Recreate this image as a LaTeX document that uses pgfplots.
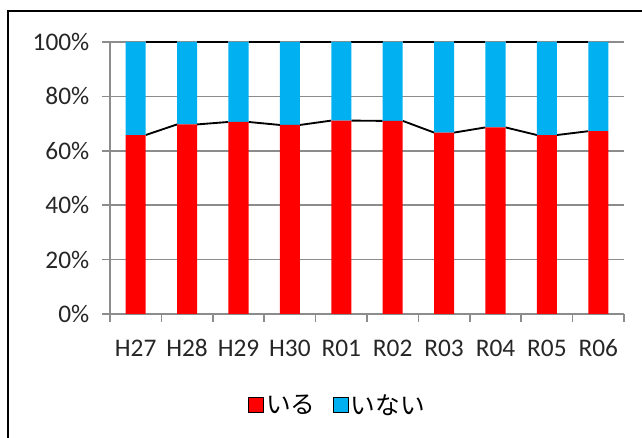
\documentclass[border=0pt]{standalone}
\usepackage{fontspec}
\setmainfont{Carlito}
\newfontfamily\jp{Noto Sans CJK JP}
\usepackage{pgfplots}
\usepackage{pgfplotstable}
\pgfplotsset{compat=1.18}
\definecolor{ired}{HTML}{FF0000}
\definecolor{icyan}{HTML}{00B0F0}
\definecolor{gridc}{HTML}{8C8C8C}

\pgfplotstableread{
x iru inai
0 65.8 34.2
1 69.7 30.3
2 70.6 29.4
3 69.5 30.5
4 71.1 28.9
5 71.0 29.0
6 66.7 33.3
7 68.6 31.4
8 65.8 34.2
9 67.2 32.8
}\datatable

\pgfplotsset{base/.style={scale only axis, width=385.5pt, height=204pt,
  xmin=-0.5, xmax=9.5, ymin=0, ymax=100}}

\begin{document}
\begin{tikzpicture}
\useasboundingbox (-82.5pt,-93pt) rectangle (399pt,235.5pt);
\draw[line width=0.9pt] (-76.5pt,-95pt) -- (-76.5pt,227.25pt) -- (402pt,227.25pt);
\begin{axis}[base,
  axis x line*=bottom, axis y line*=left,
  axis line style={gridc, line width=1.1pt},
  tick align=outside,
  ytick={0,20,...,100},
  yticklabels={0\%,20\%,40\%,60\%,80\%,100\%},
  ymajorgrids, grid style={gridc, line width=1.1pt},
  ytick style={gridc, line width=1.1pt},
  major tick length=6pt,
  xtick={-0.5,0.5,...,9.5},
  xticklabels={},
  xtick style={gridc, line width=1.1pt},
  extra x ticks={0,1,2,3,4,5,6,7,8,9},
  extra x tick labels={H27,H28,H29,H30,R01,R02,R03,R04,R05,R06},
  extra x tick style={major tick length=0pt, xtick style={draw=none},
    xticklabel style={yshift=-15pt, text height=13pt, text depth=0pt}},
  ticklabel style={font=\fontsize{19}{22}\selectfont, text=black!85},
  yticklabel style={xshift=-6pt},
  legend style={at={(0.443,-0.335)}, anchor=center, draw=none, fill=none,
    font=\jp\fontsize{18.5}{21}\selectfont, legend columns=2,
    /tikz/every even column/.append style={column sep=11pt}},
  legend image code/.code={\fill[#1] (0pt,-5.6pt) rectangle (11.25pt,5.6pt);},
]
\addlegendimage{fill=ired}
\addlegendentry{いる}
\addlegendimage{fill=icyan}
\addlegendentry{いない}
\addplot[black, line width=1.4pt, unbounded coords=jump, forget plot] coordinates {
(0.195,65.8) (0.805,69.7) (0.5,nan)
(1.195,69.7) (1.805,70.6) (1.5,nan)
(2.195,70.6) (2.805,69.5) (2.5,nan)
(3.195,69.5) (3.805,71.1) (3.5,nan)
(4.195,71.1) (4.805,71.0) (4.5,nan)
(5.195,71.0) (5.805,66.7) (5.5,nan)
(6.195,66.7) (6.805,68.6) (6.5,nan)
(7.195,68.6) (7.805,65.8) (7.5,nan)
(8.195,65.8) (8.805,67.2)
};
\addplot[black, line width=1.4pt, unbounded coords=jump, forget plot] coordinates {
(0.195,100) (0.805,100) (0.5,nan)
(1.195,100) (1.805,100) (1.5,nan)
(2.195,100) (2.805,100) (2.5,nan)
(3.195,100) (3.805,100) (3.5,nan)
(4.195,100) (4.805,100) (4.5,nan)
(5.195,100) (5.805,100) (5.5,nan)
(6.195,100) (6.805,100) (6.5,nan)
(7.195,100) (7.805,100) (7.5,nan)
(8.195,100) (8.805,100)
};
\end{axis}
\begin{axis}[base, hide axis, ybar stacked, bar width=0.39]
\addplot[fill=ired, draw=none] table[x=x, y=iru]{\datatable};
\addplot[fill=icyan, draw=none] table[x=x, y=inai]{\datatable};
\end{axis}
\end{tikzpicture}
\end{document}
